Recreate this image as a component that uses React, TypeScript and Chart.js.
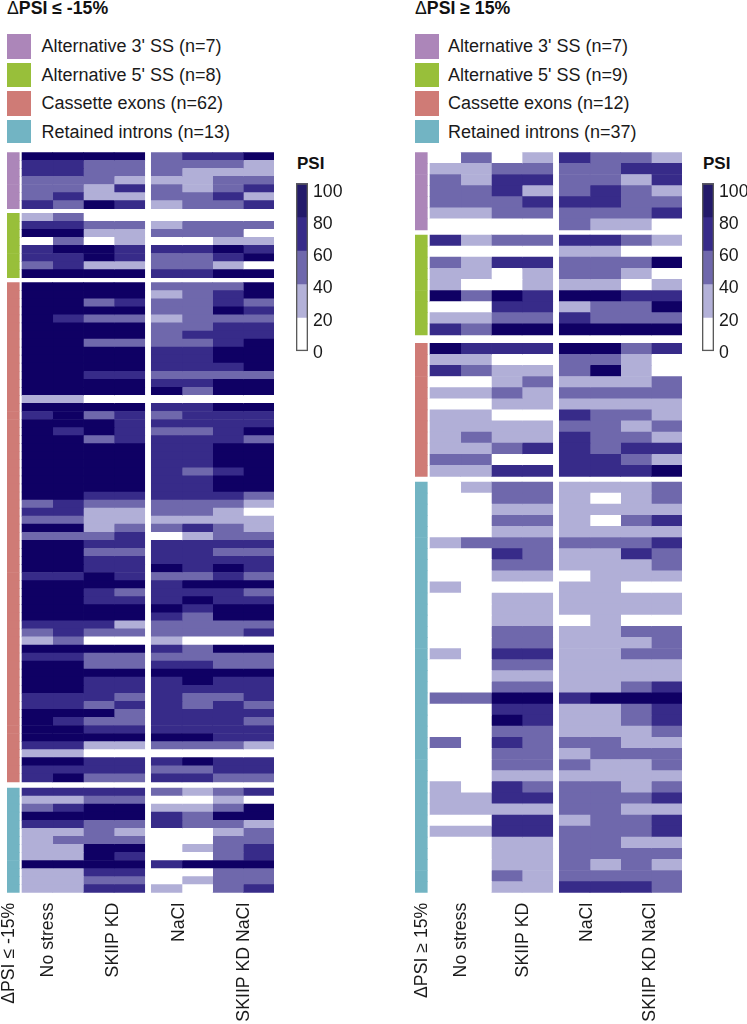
import React, { useEffect, useRef } from "react";
import { Chart, registerables } from "chart.js";

Chart.register(...registerables);

// PSI bins: 0 = 0-20, 1 = 20-40, 2 = 40-60, 3 = 60-80, 4 = 80-100
const psiTicks = [0, 20, 40, 60, 80, 100];
const binColors = ["#ffffff", "#b1afd7", "#6f68ac", "#372b89", "#0f0064"];
const colorbarColors = ["#ffffff", "#b3b1d8", "#6f68ac", "#372b89", "#231a6a"];
const groupColors = ["#ac86b9", "#98bf3a", "#cf7b76", "#72b4c3"];
const conditions = ["No stress", "SKIIP KD", "NaCl", "SKIIP KD NaCl"];
const leftLegend = ["Alternative 3' SS (n=7)", "Alternative 5' SS (n=8)", "Cassette exons (n=62)", "Retained introns (n=13)"];
const rightLegend = ["Alternative 3' SS (n=7)", "Alternative 5' SS (n=9)", "Cassette exons (n=12)", "Retained introns (n=37)"];

const left3ss = [
  [4,4,4,4,2,3,3,4],[3,3,2,2,2,2,2,1],[3,3,2,2,2,1,1,1],[2,2,2,1,1,1,2,2],[2,2,1,3,2,1,2,3],[2,3,1,1,2,2,3,1],[3,2,4,3,1,2,2,3],
];
const left5ss = [
  [1,2,0,0,0,0,0,0],[3,3,2,2,1,2,2,2],[4,4,1,1,2,2,2,0],[0,2,0,1,0,0,1,1],[3,4,4,3,3,3,4,3],[3,3,4,3,2,2,3,4],[2,3,1,1,2,2,1,0],[4,4,4,4,3,3,4,4],
];
const leftCassette = [
  [4,4,4,4,2,2,2,4],[4,4,4,4,1,2,3,4],[4,4,2,3,2,2,3,2],[4,4,4,4,2,2,4,3],[4,3,2,2,1,2,2,2],[4,4,4,4,2,2,3,3],[4,4,4,4,2,3,3,3],
  [4,4,2,2,2,2,3,4],[4,4,4,4,3,3,4,4],[4,4,4,4,3,3,4,4],[4,4,4,4,3,3,3,4],[4,4,3,3,2,2,2,2],[4,4,4,4,3,3,4,4],[4,4,4,4,4,2,4,4],
  [1,1,0,0,0,0,0,0],[4,4,4,4,3,3,4,4],[3,4,2,3,2,3,3,3],[4,4,4,3,3,3,3,3],[4,3,4,3,2,2,3,4],[4,4,2,3,3,3,3,2],[4,4,4,4,3,3,4,4],
  [4,4,4,4,3,3,4,4],[4,4,4,4,3,3,4,4],[4,4,4,4,3,2,3,4],[4,4,4,4,3,3,4,4],[4,4,4,4,3,3,4,4],[4,4,3,3,3,3,3,2],[2,3,2,2,2,2,2,1],
  [3,3,1,1,2,2,1,0],[2,2,1,1,1,1,1,1],[4,4,1,2,2,3,2,1],[2,2,2,3,0,1,2,2],[4,4,3,3,3,3,3,3],[4,4,2,2,3,3,2,2],[4,4,3,3,3,3,3,3],
  [4,4,3,3,4,3,4,3],[3,3,4,3,2,2,3,2],[4,4,4,4,3,4,4,4],[4,4,3,2,3,3,3,2],[4,4,3,3,3,4,3,3],[4,4,4,4,4,3,4,4],[4,4,4,4,3,2,4,4],
  [3,3,3,1,2,2,2,2],[2,3,2,2,2,2,2,3],[1,2,0,0,1,0,0,0],[4,4,4,4,3,2,4,4],[3,3,2,2,2,2,2,2],[4,4,2,2,3,3,2,2],[4,4,4,4,4,4,4,4],
  [4,4,3,3,3,4,3,3],[4,4,3,3,3,3,3,3],[3,3,3,2,3,2,2,3],[3,3,2,3,3,2,3,2],[4,4,4,2,3,3,3,3],[4,3,2,2,3,3,3,2],[4,4,3,3,3,3,3,3],
  [4,4,4,4,4,4,3,3],[3,3,1,1,2,2,2,1],[1,1,0,0,0,0,0,0],[4,4,3,3,3,4,3,3],[3,3,3,3,2,2,3,3],[3,4,2,2,3,3,2,2],
];
const leftIntrons = [
  [3,3,3,3,2,1,2,3],[1,1,2,2,0,0,1,0],[2,3,4,4,1,1,2,4],[4,4,4,4,3,2,4,4],[3,3,2,2,3,2,2,1],[1,1,2,1,0,0,1,2],[1,2,2,2,0,0,2,2],
  [1,1,4,4,0,1,2,3],[1,1,4,3,0,0,2,3],[4,4,4,4,3,4,4,4],[1,1,3,3,0,0,2,2],[1,1,2,2,0,1,2,2],[1,1,3,3,1,0,2,3],
];

const right3ss = [
  [0,2,0,1,3,2,2,1],[1,1,2,2,2,2,3,3],[2,1,3,3,2,2,1,3],[2,2,3,1,2,3,2,1],[2,2,2,3,3,3,2,2],[1,1,2,2,2,2,2,3],[0,0,0,0,2,1,1,0],
];
const right5ss = [
  [3,1,2,2,3,3,2,1],[0,0,0,0,1,1,0,0],[2,1,3,3,2,2,2,4],[1,1,0,1,2,2,1,0],[1,0,0,1,1,1,0,1],[4,2,4,3,4,4,3,3],[0,0,3,3,1,2,2,4],[1,1,2,2,3,2,2,2],[3,2,4,4,4,4,4,4],
];
const rightCassette = [
  [4,3,3,3,4,4,2,3],[1,1,0,0,2,2,1,0],[3,2,1,1,2,4,1,0],[0,0,1,2,1,1,1,2],[1,1,2,1,2,2,2,2],[0,0,1,1,1,1,1,1],
  [1,1,0,0,3,2,2,1],[1,1,1,1,2,2,1,2],[1,2,1,1,3,2,2,1],[1,1,2,3,3,2,3,3],[2,2,0,0,3,3,2,1],[1,1,3,3,3,3,3,4],
];
const rightIntrons = [
  [0,1,2,2,1,1,1,2],[0,0,2,2,1,0,1,2],[0,0,1,1,1,1,1,1],[0,0,2,2,1,0,2,3],[0,0,1,1,1,1,1,1],[1,2,2,2,2,2,2,3],[0,0,3,2,1,1,3,2],
  [0,0,2,2,1,1,1,2],[0,0,1,1,0,1,1,1],[1,0,0,0,1,1,0,0],[0,0,1,1,1,1,1,1],[0,0,1,1,1,1,1,1],[0,0,1,1,0,1,0,0],[0,0,2,2,1,1,2,2],
  [0,0,2,2,1,1,1,2],[1,0,3,3,1,1,2,2],[0,0,2,2,1,1,1,1],[0,0,1,1,1,1,1,1],[0,0,2,2,1,1,2,3],[2,2,4,4,3,4,4,4],[0,0,3,3,1,1,2,3],
  [0,0,4,3,1,1,2,3],[0,0,2,2,1,1,1,2],[2,0,3,2,2,2,1,1],[0,0,2,2,1,2,2,2],[0,0,2,2,2,1,1,2],[0,0,1,1,1,1,1,1],[1,0,3,2,2,2,1,2],
  [1,1,3,3,2,2,2,3],[1,1,1,1,2,2,1,1],[0,0,3,3,1,2,2,3],[1,1,3,3,2,2,2,3],[0,0,1,1,2,2,1,1],[0,0,1,1,2,2,2,2],[0,0,1,1,2,1,2,1],
  [0,0,2,1,2,2,2,2],[0,0,1,1,3,3,3,2],
];

const FONT = "'Liberation Sans', Arial, sans-serif";
const TEXT = "#1a1a1a";
const STRIP_W = 0.4;
const STRIP_GAP = 0.09;
const MID_GAP = 0.215;
const X_TOTAL = STRIP_W + STRIP_GAP + 8 + MID_GAP;

type PanelProps = {
  groups: number[][][];
  gaps: number[];
  axisLabel: string;
  canvasLeft: number;
  canvasWidth: number;
  plotLeft: number;
  plotTop: number;
  plotBottom: number;
  labelPx: number[];
};

function Panel(p: PanelProps) {
  const ref = useRef<HTMLCanvasElement>(null);
  useEffect(() => {
    const rows: number[][] = [];
    const rowColors: string[] = [];
    const pos: number[] = [];
    let cursor = 0;
    p.groups.forEach((g, gi) => {
      g.forEach((r) => {
        rows.push(r);
        rowColors.push(groupColors[gi]);
        pos.push(cursor + 0.5);
        cursor += 1;
      });
      cursor += gi < p.gaps.length ? p.gaps[gi] : 0;
    });
    const colStart = (c: number) => STRIP_W + STRIP_GAP + c + (c >= 4 ? MID_GAP : 0);
    const datasets: any[] = [
      {
        data: pos.map((y) => ({ y, x: [0, STRIP_W] })),
        backgroundColor: rowColors,
        grouped: false,
        borderWidth: 0,
      },
    ];
    for (let c = 0; c < 8; c++) {
      datasets.push({
        data: pos.map((y) => ({ y, x: [colStart(c), colStart(c) + 1] })),
        backgroundColor: rows.map((r) => binColors[r[c]]),
        grouped: false,
        borderWidth: 0,
      });
    }
    const plotWidth = 267;
    const unit = plotWidth / X_TOTAL;
    const tickVals = p.labelPx.map((px) => (px - p.plotLeft) / unit);
    const labels = [p.axisLabel, ...conditions];
    const chart = new Chart(ref.current!, {
      type: "bar",
      data: { datasets },
      options: {
        indexAxis: "y",
        animation: false,
        responsive: false,
        events: [],
        barPercentage: 1,
        categoryPercentage: 1,
        layout: {
          padding: {
            left: p.plotLeft - p.canvasLeft,
            right: p.canvasLeft + p.canvasWidth - p.plotLeft - plotWidth,
            top: p.plotTop,
            bottom: 0,
          },
        },
        plugins: { legend: { display: false }, tooltip: { enabled: false }, title: { display: false } },
        scales: {
          y: { type: "linear", display: false, reverse: true, offset: false, min: 0, max: cursor },
          x: {
            type: "linear",
            min: 0,
            max: X_TOTAL,
            border: { display: false },
            grid: { display: false, drawTicks: false },
            afterBuildTicks: (s: any) => {
              s.ticks = tickVals.map((value) => ({ value }));
            },
            afterFit: (s: any) => {
              s.height = 1024 - p.plotBottom;
              s.paddingLeft = 0;
              s.paddingRight = 0;
            },
            ticks: {
              autoSkip: false,
              minRotation: 90,
              maxRotation: 90,
              padding: 10,
              color: TEXT,
              font: { family: FONT, size: 17.7 },
              callback: (_v: any, i: number) => labels[i],
            },
          },
        },
      } as any,
    });
    return () => chart.destroy();
  }, []);
  return (
    <canvas
      ref={ref}
      width={p.canvasWidth}
      height={1024}
      style={{ position: "absolute", left: p.canvasLeft, top: 0, width: p.canvasWidth, height: 1024 }}
    />
  );
}

function ColorBar({ left, width }: { left: number; width: number }) {
  const ref = useRef<HTMLCanvasElement>(null);
  useEffect(() => {
    const segs = colorbarColors.map((_, i) => ({ x: 0.5, y: [psiTicks[i], psiTicks[i + 1]] }));
    const chart = new Chart(ref.current!, {
      type: "bar",
      data: {
        datasets: [
          { data: segs, backgroundColor: colorbarColors, grouped: false, yAxisID: "yBar", borderWidth: 0, order: 2 },
          {
            data: [{ x: 0.5, y: [psiTicks[0], psiTicks[5]] }],
            backgroundColor: "rgba(0,0,0,0)",
            borderColor: "#5a5a5a",
            borderWidth: 1,
            borderSkipped: false,
            grouped: false,
            yAxisID: "yBar",
            order: 1,
          },
        ],
      },
      options: {
        animation: false,
        responsive: false,
        events: [],
        barPercentage: 1,
        categoryPercentage: 1,
        layout: { padding: { left: 16, right: 0, top: 13.3, bottom: 17 } },
        plugins: { legend: { display: false }, tooltip: { enabled: false } },
        scales: {
          x: { type: "linear", display: false, offset: false, min: 0, max: 1 },
          yBar: { type: "linear", display: false, min: -1.19, max: 100 },
          yLabel: {
            type: "linear",
            position: "right",
            min: 0,
            max: 105.2,
            border: { display: false },
            grid: { display: false, drawTicks: false },
            afterBuildTicks: (s: any) => {
              s.ticks = psiTicks.map((value) => ({ value }));
            },
            afterFit: (s: any) => {
              s.width = width - 28;
              s.paddingTop = 0;
              s.paddingBottom = 0;
            },
            ticks: {
              autoSkip: false,
              padding: 5,
              color: TEXT,
              font: { family: FONT, size: 17.7 },
              callback: (v: any) => String(v),
            },
          },
        },
      } as any,
    });
    return () => chart.destroy();
  }, []);
  return (
    <canvas
      ref={ref}
      width={width}
      height={200}
      style={{ position: "absolute", left, top: 170, width, height: 200 }}
    />
  );
}

const swatchTops = [34, 63, 90.5, 119.5];
const swatchHeights = [24.5, 24, 25, 23.5];
const textCenters = [46, 74.5, 103, 132];

function Legend({ x, textX, items }: { x: number; textX: number; items: string[] }) {
  return (
    <>
      {items.map((t, i) => (
        <React.Fragment key={t}>
          <div
            style={{
              position: "absolute",
              left: x,
              top: swatchTops[i],
              width: 24,
              height: swatchHeights[i],
              background: groupColors[i],
            }}
          />
          <div
            style={{
              position: "absolute",
              left: textX,
              top: textCenters[i] - 12,
              lineHeight: "24px",
              fontSize: 18,
              fontFamily: FONT,
              color: TEXT,
              whiteSpace: "nowrap",
            }}
          >
            {t}
          </div>
        </React.Fragment>
      ))}
    </>
  );
}

function Heading({ x, y, size, children }: { x: number; y: number; size: number; children: React.ReactNode }) {
  return (
    <div
      style={{
        position: "absolute",
        left: x,
        top: y,
        lineHeight: "20px",
        fontSize: size,
        fontWeight: 700,
        fontFamily: FONT,
        color: "#111",
        whiteSpace: "nowrap",
      }}
    >
      {children}
    </div>
  );
}

export default function App() {
  return (
    <div style={{ position: "absolute", left: 0, top: 0, width: 747, height: 1024, overflow: "hidden", background: "#fff" }}>
      <Heading x={7} y={-2} size={17.7}>
        <span style={{ fontWeight: 400 }}>Δ</span>PSI ≤ -15%
      </Heading>
      <Heading x={415} y={-2} size={17.7}>
        <span style={{ fontWeight: 400 }}>Δ</span>PSI ≥ 15%
      </Heading>
      <Legend x={7} textX={41.5} items={leftLegend} />
      <Legend x={415} textX={448} items={rightLegend} />
      <Heading x={297} y={154} size={17}>PSI</Heading>
      <Heading x={703} y={154} size={17}>PSI</Heading>
      <Panel
        groups={[left3ss, left5ss, leftCassette, leftIntrons]}
        gaps={[0.57, 0.62, 0.77]}
        axisLabel="ΔPSI ≤ -15%"
        canvasLeft={0}
        canvasWidth={285}
        plotLeft={7}
        plotTop={152.3}
        plotBottom={892.7}
        labelPx={[9, 48, 113.5, 179.5, 244.5]}
      />
      <Panel
        groups={[right3ss, right5ss, rightCassette, rightIntrons]}
        gaps={[0.45, 0.75, 0.5]}
        axisLabel="ΔPSI ≥ 15%"
        canvasLeft={405}
        canvasWidth={290}
        plotLeft={415}
        plotTop={152.3}
        plotBottom={892.7}
        labelPx={[422, 461, 523.5, 587.5, 650.5]}
      />
      <ColorBar left={280} width={70} />
      <ColorBar left={686} width={61} />
    </div>
  );
}
